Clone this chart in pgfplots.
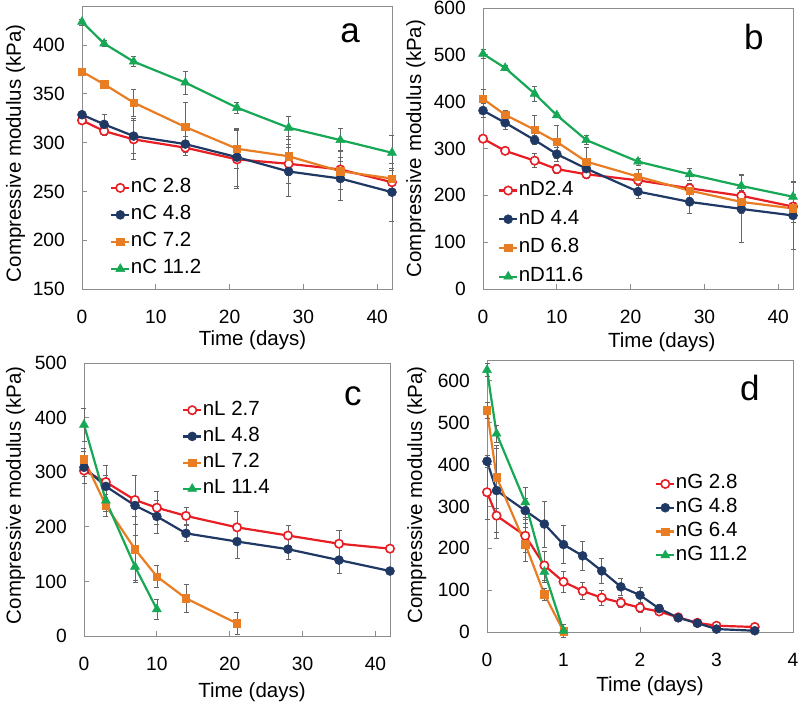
\documentclass[border=0pt]{standalone}
\usepackage{pgfplots}
\pgfplotsset{compat=1.18}
\usepackage{fontspec}
\setmainfont{Liberation Sans}
\definecolor{cred}{RGB}{232,30,37}
\definecolor{cnavy}{RGB}{31,56,100}
\definecolor{corange}{RGB}{232,125,35}
\definecolor{cgreen}{RGB}{22,168,84}
\definecolor{cframe}{RGB}{140,140,140}
\newcommand{\fs}{\fontsize{20.5}{22}\selectfont}
\newcommand{\ft}{\fontsize{19.2}{21}\selectfont}
\pgfplotsset{
  panel/.style={
    scale only axis, anchor=south west, clip=false,
    axis line style={cframe, line width=0.9pt},
    tick align=inside, xtick pos=bottom, ytick pos=left,
    major tick length=5pt, tick style={cframe, line width=0.9pt},
    /pgf/number format/assume math mode=true,
    ticklabel style={font=\ft, inner sep=0pt},
    xticklabel style={anchor=north, yshift=-21pt},
    yticklabel style={anchor=east, xshift=-17pt},
    label style={font=\fs},
    xlabel={Time (days)}, ylabel={Compressive modulus (kPa)},
    legend cell align=left,
    legend style={draw=none, fill=none, font=\fs, anchor=north west, inner sep=0pt,
      nodes={inner sep=0.5pt, text height=14pt, text depth=4pt}},
    legend image code/.code={\draw[mark repeat=2,mark phase=2] plot coordinates {(0pt,0pt)(9pt,0pt)(18pt,0pt)};},
  },
  eb/.style={line width=2.2pt,
      error bars/y dir=both, error bars/y explicit,
      error bars/error bar style={line width=0.6pt, color=black!60},
      error bars/error mark options={rotate=90, mark size=2.5pt, line width=0.6pt, color=black!60}},
  sred/.style={eb, cred, mark=*, mark size=4.2pt, mark options={fill=white, line width=1.6pt}},
  snavy/.style={eb, cnavy, mark=*, mark size=4.5pt, mark options={fill=cnavy, line width=0.5pt}},
  sorange/.style={eb, corange, mark=square*, mark size=3.7pt, mark options={fill=corange, line width=0.5pt}},
  sgreen/.style={eb, cgreen, mark=triangle*, mark size=5.2pt, mark options={fill=cgreen, line width=0.5pt}},
}
\begin{document}
\begin{tikzpicture}
\useasboundingbox (0pt,0pt) rectangle (800pt,704pt);
% ---------------- panel a
\begin{axis}[panel, at={(82pt,415pt)}, width=310pt, height=283pt,
  xmin=0, xmax=42, ymin=150, ymax=440,
  xtick={0,10,20,30,40}, ytick={150,200,...,400},
  xlabel style={at={(axis description cs:0.55,-0.201)}, anchor=base},
  ylabel style={at={(axis description cs:-0.197,0.479)}, anchor=base},
  legend style={at={(axis description cs:0.0903,0.3915)}, row sep=8pt}]
\addplot[sred] table[x=x,y=y,y error=e] {
x y e
0 322.8 3
3 311.8 4
7 303.3 20
14 294.8 8
21 282.8 30
28 278.3 20
35 272.5 20
42 259.4 12
};
\addplot[snavy] table[x=x,y=y,y error=e] {
x y e
0 328.6 3
3 318.7 10
7 306.7 18
14 298.5 8
21 285.1 30
28 270.4 25
35 263.2 22
42 249.2 30
};
\addplot[sorange] table[x=x,y=y,y error=e] {
x y e
0 372.8 3
3 359.8 3
7 341 14
14 316 25
21 293.7 20
28 286 20
35 270.7 10
42 263.2 10
};
\addplot[sgreen] table[x=x,y=y,y error=e] {
x y e
0 423.7 3
3 401.5 3
7 383 5
14 361.5 12
21 335.8 6
28 315.3 12
35 302.6 12
42 289.6 18
};
\legend{nC 2.8,nC 4.8,nC 7.2,nC 11.2}
\node[font=\fontsize{35}{40}\selectfont] at (axis description cs:0.865,0.905) {a};
\end{axis}
% ---------------- panel b
\begin{axis}[panel, at={(483pt,415pt)}, width=310pt, height=281pt,
  xmin=0, xmax=42, ymin=0, ymax=600,
  xtick={0,10,20,30,40}, ytick={0,100,...,600},
  xlabel style={at={(axis description cs:0.577,-0.208)}, anchor=base},
  ylabel style={at={(axis description cs:-0.2,0.5)}, anchor=base},
  legend style={at={(axis description cs:0.048,0.385)}, row sep=9.7pt}]
\addplot[sred] table[x=x,y=y,y error=e] {
x y e
0 321 8
3 295 8
7 274 15
10 256 10
14 245 8
21 232 10
28 215 10
35 199 10
42 176 10
};
\addplot[snavy] table[x=x,y=y,y error=e] {
x y e
0 381 15
3 355 15
7 318 10
10 288 15
14 257 15
21 208 15
28 186 25
35 171 72
42 157 72
};
\addplot[sorange] table[x=x,y=y,y error=e] {
x y e
0 406 20
3 372 10
7 340 30
10 314 35
14 272 30
21 240 15
28 210 15
35 186 25
42 172 30
};
\addplot[sgreen] table[x=x,y=y,y error=e] {
x y e
0 502 10
3 472 5
7 417 16
10 371 5
14 318 10
21 272 8
28 245 12
35 220 25
42 197 30
};
\legend{nD2.4,nD 4.4,nD 6.8,nD11.6}
\node[font=\fontsize{35}{40}\selectfont] at (axis description cs:0.874,0.897) {b};
\end{axis}
% ---------------- panel c
\begin{axis}[panel, at={(84pt,68pt)}, width=306pt, height=273pt,
  xmin=0, xmax=42, ymin=0, ymax=500,
  xtick={0,10,20,30,40}, ytick={0,100,...,500},
  xlabel style={at={(axis description cs:0.549,-0.2245)}, anchor=base},
  ylabel style={at={(axis description cs:-0.206,0.515)}, anchor=base},
  legend style={at={(axis description cs:0.32,0.8626)}, row sep=7.2pt}]
\addplot[sred] table[x=x,y=y,y error=e] {
x y e
0 303 10
3 282 30
7 249 45
10 235 30
14 220 15
21 199 30
28 184 18
35 169 25
42 160 5
};
\addplot[snavy] table[x=x,y=y,y error=e] {
x y e
0 309 30
3 274 20
7 239 55
10 219 30
14 188 15
21 173 30
28 159 18
35 139 25
42 119 5
};
\addplot[sorange] table[x=x,y=y,y error=e] {
x y e
0 324 20
3 239 20
7 159 60
10 109 20
14 69 25
21 23 20
};
\addplot[sgreen] table[x=x,y=y,y error=e] {
x y e
0 387 30
3 248 20
7 127 25
10 49 18
};
\legend{nL 2.7,nL 4.8,nL 7.2,nL 11.4}
\node[font=\fontsize{35}{40}\selectfont] at (axis description cs:0.879,0.879) {c};
\end{axis}
% ---------------- panel d
\begin{axis}[panel, at={(487pt,72pt)}, width=306pt, height=272pt,
  xmin=0, xmax=4, ymin=0, ymax=650,
  xtick={0,1,2,3,4}, ytick={0,100,...,600},
  xlabel style={at={(axis description cs:0.533,-0.218)}, anchor=base},
  ylabel style={at={(axis description cs:-0.212,0.504)}, anchor=base},
  legend style={at={(axis description cs:0.549,0.58)}, row sep=4.8pt}]
\addplot[sred] table[x=x,y=y,y error=e] {
x y e
0 334 65
0.125 278 55
0.5 230 40
0.75 159 35
1 120 25
1.25 98 20
1.5 82 18
1.75 70 12
2 58 10
2.25 49 5
2.5 35 5
2.75 22 5
3 15 5
3.5 12 3
};
\addplot[snavy] table[x=x,y=y,y error=e] {
x y e
0 408 15
0.125 338 100
0.5 290 30
0.75 258 55
1 209 45
1.25 182 35
1.5 146 30
1.75 108 20
2 88 18
2.25 56 10
2.5 34 5
2.75 21 5
3 7 5
3.5 3 3
};
\addplot[sorange] table[x=x,y=y,y error=e] {
x y e
0 530 20
0.125 370 75
0.5 210 40
0.75 90 15
1 2 3
};
\addplot[sgreen] table[x=x,y=y,y error=e] {
x y e
0 626 15
0.125 474 20
0.5 310 35
0.75 144 25
1 3 15
};
\legend{nG 2.8,nG 4.8,nG 6.4,nG 11.2}
\node[font=\fontsize{35}{40}\selectfont] at (axis description cs:0.859,0.897) {d};
\end{axis}
\end{tikzpicture}
\end{document}
